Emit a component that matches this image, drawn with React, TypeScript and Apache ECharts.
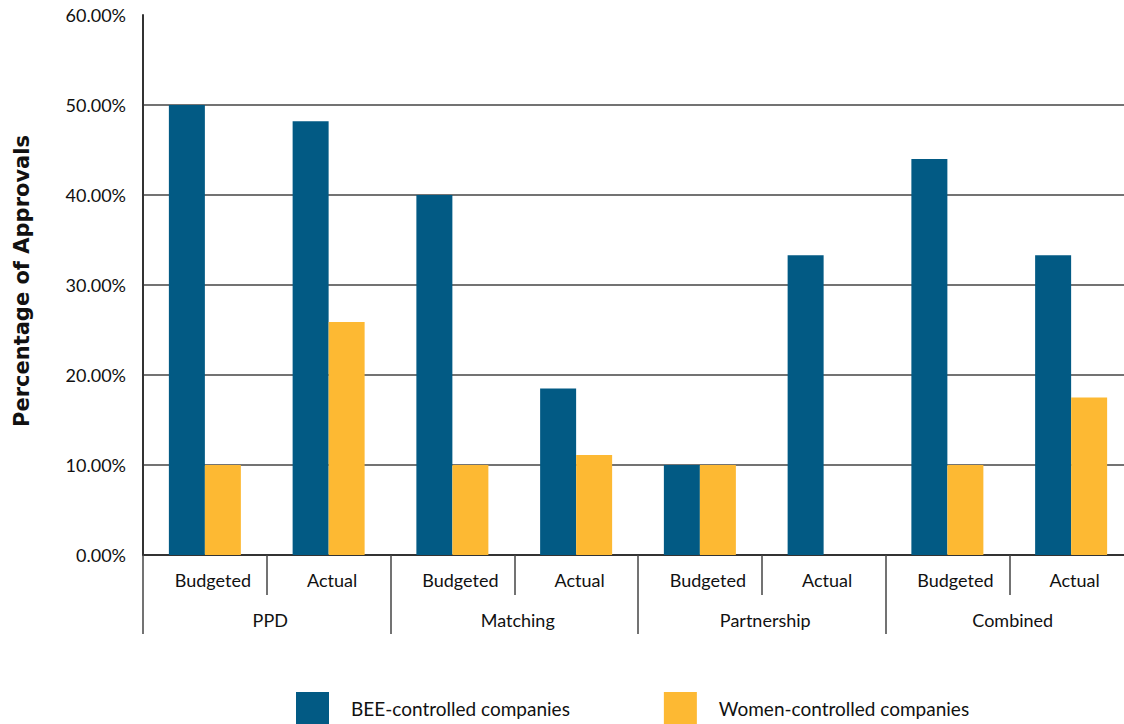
import React, { useEffect, useRef } from "react";
import * as echarts from "echarts";

const subCategories = ["Budgeted", "Actual", "Budgeted", "Actual", "Budgeted", "Actual", "Budgeted", "Actual"];
const groups = ["PPD", "Matching", "Partnership", "Combined"];
const beeValues = [50, 48.2, 40, 18.5, 10, 33.3, 44, 33.3];
const womenValues = [10, 25.9, 10, 11.1, 10, 0, 10, 17.5];
const yTicks = [0, 10, 20, 30, 40, 50, 60];

const BLUE = "#025A84";
const YELLOW = "#FDB933";
const FONT = "Lato";

export default function App() {
  const ref = useRef<HTMLDivElement>(null);
  useEffect(() => {
    if (!ref.current) return;
    const chart = echarts.init(ref.current, undefined, { renderer: "svg" });
    const labelText = { fontSize: 18, color: "#111", fontFamily: FONT };
    chart.setOption({
      animation: false,
      textStyle: { fontFamily: FONT, color: "#111" },
      grid: { left: 143, top: 15, height: 540, width: 990, containLabel: false, outerBoundsMode: "none" },
      legend: {
        left: 296,
        top: 692,
        padding: 0,
        itemWidth: 33,
        itemHeight: 32,
        itemGap: 94,
        icon: "rect",
        textStyle: { fontFamily: FONT, fontSize: 19, color: "#111", padding: [0, 0, 0, 17] },
        data: ["BEE-controlled companies", "Women-controlled companies"],
      },
      xAxis: [
        {
          type: "category",
          data: subCategories,
          position: "bottom",
          axisLine: { show: true, lineStyle: { color: "#333", width: 2 } },
          axisTick: { show: true, interval: 0, length: 40, alignWithLabel: false, lineStyle: { color: "#444", width: 1.5 } },
          axisLabel: {
            interval: 0,
            margin: 16,
            ...labelText,
            formatter: (v: string) => (v === "Budgeted" ? "{b|" + v + "}" : "{a|" + v + "}"),
            rich: {
              b: { ...labelText, padding: [0, 0, 0, 16] },
              a: { ...labelText, padding: [0, 0, 0, 7] },
            },
          },
        },
        {
          type: "category",
          data: groups,
          position: "bottom",
          offset: 40,
          axisLine: { show: false },
          axisTick: { show: true, interval: 0, length: 39, alignWithLabel: false, lineStyle: { color: "#444", width: 1.5 } },
          axisLabel: { interval: 0, margin: 16, ...labelText, padding: [0, 0, 0, 7] },
        },
      ],
      yAxis: {
        type: "value",
        min: yTicks[0],
        max: yTicks[yTicks.length - 1],
        interval: 10,
        name: "Percentage of Approvals",
        nameLocation: "middle",
        nameGap: 111,
        nameTextStyle: { fontFamily: "DejaVu Sans", fontSize: 21, fontWeight: "bold", color: "#111", padding: [0, 0, 0, 8] },
        axisLine: { show: true, lineStyle: { color: "#333", width: 2 } },
        axisTick: { show: false },
        axisLabel: {
          margin: 17,
          ...labelText,
          formatter: (v: number) => v.toFixed(2) + "%",
        },
        splitLine: {
          show: true,
          lineStyle: { color: ["#444", "#444", "#444", "#444", "#444", "#444", "transparent"], width: 1.5 },
        },
      },
      series: [
        {
          name: "BEE-controlled companies",
          type: "bar",
          data: beeValues,
          barWidth: 36,
          barGap: "0%",
          itemStyle: { color: BLUE },
        },
        {
          name: "Women-controlled companies",
          type: "bar",
          data: womenValues,
          barWidth: 36,
          barGap: "0%",
          itemStyle: { color: YELLOW },
        },
      ],
    });
    return () => chart.dispose();
  }, []);
  return (
    <div
      ref={ref}
      style={{ position: "fixed", left: 0, top: 0, width: 1124, height: 724, background: "#fff" }}
    />
  );
}
